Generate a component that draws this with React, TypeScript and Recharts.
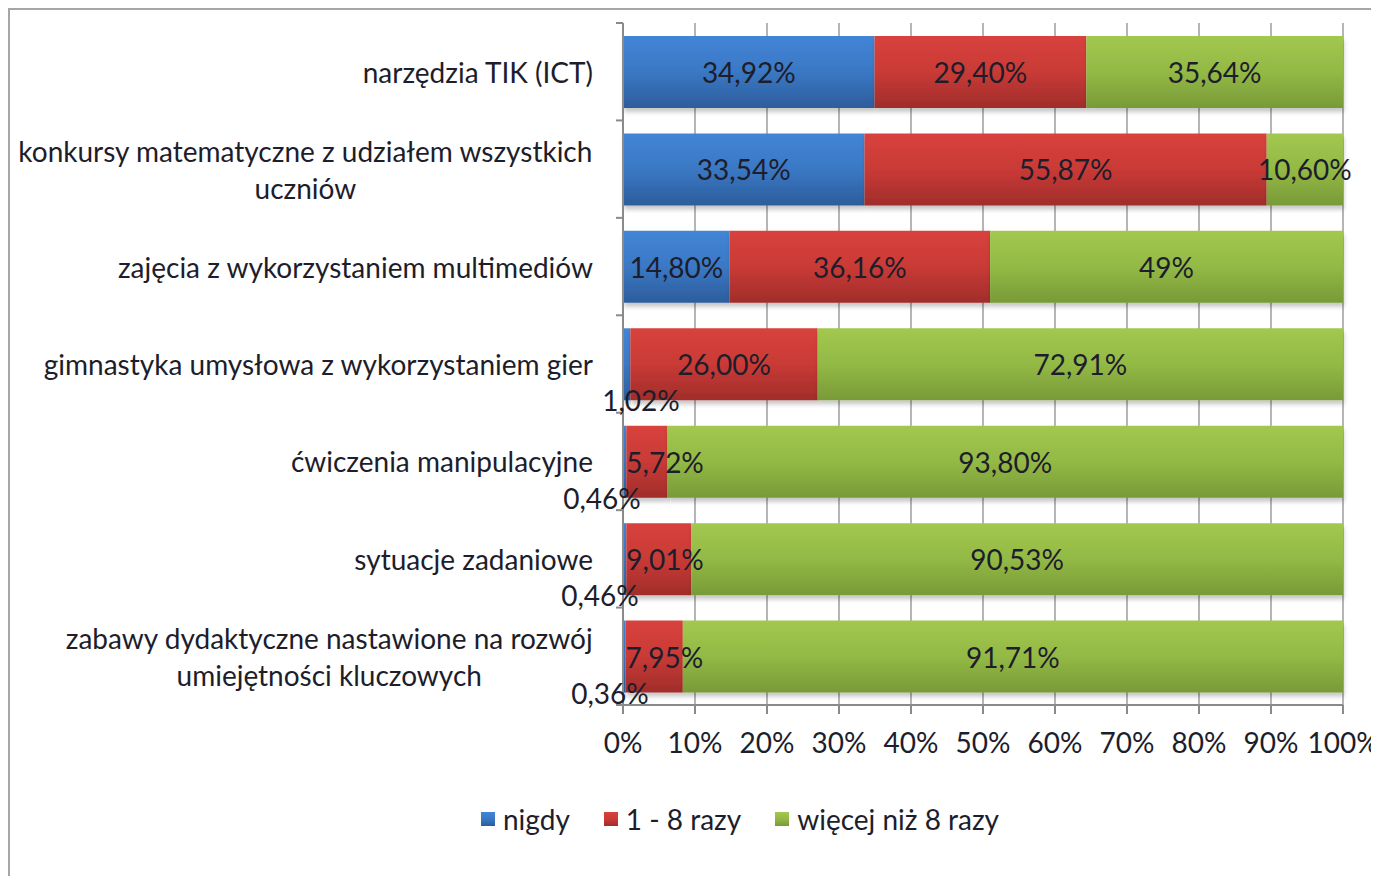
import { BarChart, Bar, XAxis, YAxis, CartesianGrid, LabelList } from 'recharts'

const categories = [
  'narzędzia TIK (ICT)',
  'konkursy matematyczne z udziałem wszystkich uczniów',
  'zajęcia z wykorzystaniem multimediów',
  'gimnastyka umysłowa z wykorzystaniem gier',
  'ćwiczenia manipulacyjne',
  'sytuacje zadaniowe',
  'zabawy dydaktyczne nastawione na rozwój umiejętności kluczowych',
]
const nigdy = [34.92, 33.54, 14.8, 1.02, 0.46, 0.46, 0.36]
const razy1do8 = [29.4, 55.87, 36.16, 26.0, 5.72, 9.01, 7.95]
const wiecejNiz8 = [35.64, 10.6, 49, 72.91, 93.8, 90.53, 91.71]
// the chart prints "49%" without decimals
const wiecejDecimals = [2, 2, 0, 2, 2, 2, 2]
const xTicks = [0, 0.1, 0.2, 0.3, 0.4, 0.5, 0.6, 0.7, 0.8, 0.9, 1]
const seriesNames = ['nigdy', '1 - 8 razy', 'więcej niż 8 razy']

const FONT = 'Lato, "Open Sans", sans-serif'
const FONT_SIZE = 28
const TEXT = '#1d1d2b'
const AXIS = '#8a8a8a'

const CHART_W = 1369
const CHART_H = 866
const MARGIN = { top: 13, right: 36, left: 0, bottom: 121 }
const Y_AXIS_W = 613
const X_AXIS_H = 50
const PLOT_H = CHART_H - MARGIN.top - MARGIN.bottom - X_AXIS_H
const BAND = PLOT_H / categories.length

// manual nudges for the tiny "nigdy" labels drawn under the bars
const smallLabelDx = [0, 0, 0, 18, -21, -23, -13]

const fmt = (v: number, d = 2) => v.toFixed(d).replace('.', ',') + '%'

const data = categories.map((name, i) => ({
  name,
  nigdy: nigdy[i],
  razy: razy1do8[i],
  wiecej: wiecejNiz8[i],
  nigdyLabel: fmt(nigdy[i]),
  razyLabel: fmt(razy1do8[i]),
  wiecejLabel: fmt(wiecejNiz8[i], wiecejDecimals[i]),
}))

let ctx: CanvasRenderingContext2D | null = null
const measure = (s: string) => {
  if (!ctx) ctx = document.createElement('canvas').getContext('2d')
  if (!ctx) return s.length * 13
  ctx.font = `${FONT_SIZE}px Lato`
  return ctx.measureText(s).width
}

const wrap = (s: string, max = 43) => {
  const lines: string[] = []
  let cur = ''
  for (const w of s.split(' ')) {
    const next = cur ? cur + ' ' + w : w
    if (next.length > max && cur) {
      lines.push(cur)
      cur = w
    } else cur = next
  }
  if (cur) lines.push(cur)
  return lines
}

const CategoryTick = (props: any) => {
  const { y, payload, index } = props
  const lines = wrap(String(payload.value))
  const right = Y_AXIS_W - 30
  const widths = lines.map(measure)
  const maxW = Math.max(...widths)
  const cx = right - maxW / 2
  const lh = 37
  const top = y - ((lines.length - 1) * lh) / 2
  const edge = y - BAND / 2
  return (
    <g>
      <line x1={Y_AXIS_W - 7} x2={Y_AXIS_W} y1={edge} y2={edge} stroke={AXIS} strokeWidth={2} />
      {index === categories.length - 1 && (
        <line x1={Y_AXIS_W - 7} x2={Y_AXIS_W} y1={y + BAND / 2} y2={y + BAND / 2} stroke={AXIS} strokeWidth={2} />
      )}
      {lines.map((l, i) => (
        <text
          key={i}
          x={lines.length > 1 ? cx : right}
          y={top + i * lh}
          textAnchor={lines.length > 1 ? 'middle' : 'end'}
          dominantBaseline="central"
          fontFamily={FONT}
          fontSize={FONT_SIZE}
          fill={TEXT}
        >
          {l}
        </text>
      ))}
    </g>
  )
}

const PercentTick = (props: any) => {
  const { x, y, payload } = props
  return (
    <text x={x} y={y + 26} textAnchor="middle" dominantBaseline="central" fontFamily={FONT} fontSize={FONT_SIZE} fill={TEXT}>
      {Math.round(payload.value * 100)}%
    </text>
  )
}

const makeLabel = (kind: 'nigdy' | 'razy' | 'wiecej') => (props: any) => {
  const vb = props.viewBox && props.viewBox.width !== undefined ? props.viewBox : props
  const { x, y, width, height } = vb
  const value = String(props.value)
  const idx = props.index ?? 0
  const tw = measure(value)
  let cx = x + width / 2
  let cy = y + height / 2
  if (kind === 'nigdy' && width < 30) {
    cx = x + smallLabelDx[idx]
    cy = y + height
  }
  if (kind === 'razy' && cx - tw / 2 < x) cx = x + tw / 2
  return (
    <text x={cx} y={cy} textAnchor="middle" dominantBaseline="central" fontFamily={FONT} fontSize={FONT_SIZE} fill={TEXT}>
      {value}
    </text>
  )
}

const gradients = [
  { id: 'gBlue', top: '#4285d6', mid: '#3a78c4', bottom: '#2c5d9c' },
  { id: 'gRed', top: '#d8423d', mid: '#c93a36', bottom: '#a02d2a' },
  { id: 'gGreen', top: '#a2c850', mid: '#93b945', bottom: '#789a38' },
]

const Swatch = ({ g }: { g: (typeof gradients)[number] }) => (
  <span
    style={{
      display: 'inline-block',
      width: 14,
      height: 14,
      marginRight: 8,
      background: `linear-gradient(${g.top}, ${g.mid}, ${g.bottom})`,
    }}
  />
)

export default function App() {
  return (
    <div
      style={{
        position: 'relative',
        width: 1369,
        height: 866,
        borderTop: '2px solid #a6a6a6',
        borderLeft: '2px solid #a6a6a6',
        fontFamily: FONT,
      }}
    >
      <BarChart width={CHART_W} height={CHART_H} data={data} layout="vertical" stackOffset="expand" margin={MARGIN}>
        <defs>
          {gradients.map(g => (
            <linearGradient key={g.id} id={g.id} x1="0" y1="0" x2="0" y2="1">
              <stop offset="0%" stopColor={g.top} />
              <stop offset="50%" stopColor={g.mid} />
              <stop offset="100%" stopColor={g.bottom} />
            </linearGradient>
          ))}
          <filter id="barShadow" x="-5%" y="-20%" width="110%" height="150%">
            <feDropShadow dx="1" dy="4" stdDeviation="2" floodColor="#000" floodOpacity="0.22" />
          </filter>
        </defs>
        <CartesianGrid horizontal={false} stroke="#9c9c9c" strokeWidth={1.5} />
        <XAxis
          type="number"
          domain={[0, 1]}
          ticks={xTicks}
          height={X_AXIS_H}
          tickSize={9}
          stroke={AXIS}
          strokeWidth={2}
          tickLine={{ stroke: AXIS, strokeWidth: 2 }}
          tick={<PercentTick />}
          interval={0}
        />
        <YAxis
          type="category"
          dataKey="name"
          width={Y_AXIS_W}
          tickLine={false}
          stroke={AXIS}
          strokeWidth={2}
          tick={<CategoryTick />}
          interval={0}
        />
        <Bar dataKey="nigdy" name={seriesNames[0]} stackId="a" fill="url(#gBlue)" barSize={72} filter="url(#barShadow)" isAnimationActive={false}>
          <LabelList dataKey="nigdyLabel" content={makeLabel('nigdy')} />
        </Bar>
        <Bar dataKey="razy" name={seriesNames[1]} stackId="a" fill="url(#gRed)" barSize={72} filter="url(#barShadow)" isAnimationActive={false}>
          <LabelList dataKey="razyLabel" content={makeLabel('razy')} />
        </Bar>
        <Bar dataKey="wiecej" name={seriesNames[2]} stackId="a" fill="url(#gGreen)" barSize={72} filter="url(#barShadow)" isAnimationActive={false}>
          <LabelList dataKey="wiecejLabel" content={makeLabel('wiecej')} />
        </Bar>
      </BarChart>
      <div
        style={{
          position: 'absolute',
          left: 471,
          top: 792,
          display: 'flex',
          alignItems: 'center',
          fontSize: FONT_SIZE,
          color: TEXT,
          whiteSpace: 'nowrap',
        }}
      >
        {gradients.map((g, i) => (
          <span key={g.id} style={{ display: 'flex', alignItems: 'center', marginRight: i < 2 ? 34 : 0 }}>
            <Swatch g={g} />
            {seriesNames[i]}
          </span>
        ))}
      </div>
    </div>
  )
}
